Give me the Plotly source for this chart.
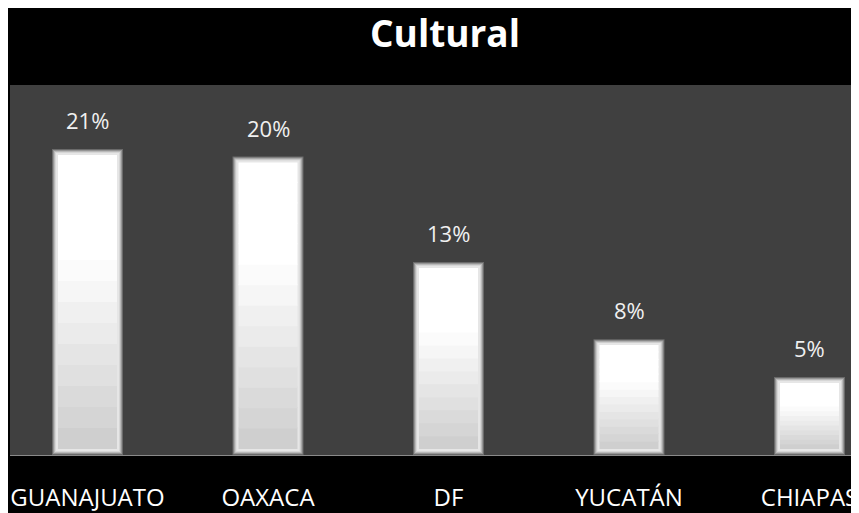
import plotly.graph_objects as go

# datos
estados = ["GUANAJUATO", "OAXACA", "DF", "YUCATÁN", "CHIAPAS"]
porcentajes = [20.6, 20.1, 13.0, 7.8, 5.25]
etiquetas = ["21%", "20%", "13%", "8%", "5%"]

fig = go.Figure()

px_unidad = 180.5          # pixeles por categoria
px_pct = 15.05             # pixeles por punto porcentual

# bisel: capas de afuera hacia adentro (ancho px, margen px, color)
capas = [(71, 0, "#6a6a6a"), (69, 1, "#959595"), (67, 2, "#b9b9b9"),
         (65, 3, "#d6d6d6"), (63, 4, "#e6e6e6")]
for ancho, inset, color in capas:
    d = inset / px_pct
    fig.add_trace(go.Bar(
        x=estados, y=[v - 2 * d for v in porcentajes], base=[d] * len(porcentajes),
        width=ancho / px_unidad, marker=dict(color=color, line=dict(width=0)),
        hoverinfo="skip", showlegend=False,
    ))

# nucleo con degradado vertical (blanco arriba, gris claro abajo)
n = 14
d = 6 / px_pct
solape = 1.2 / px_pct
for j in range(n):
    f = (j + 0.5) / n
    g = 255 if f > 0.65 else int(205 + 50 * f / 0.65)
    extra = solape if j < n - 1 else 0
    fig.add_trace(go.Bar(
        x=estados, y=[(v - 2 * d) / n + extra for v in porcentajes],
        base=[d + (v - 2 * d) * j / n for v in porcentajes],
        width=59 / px_unidad, marker=dict(color=f"rgb({g},{g},{g})", line=dict(width=0)),
        hoverinfo="skip", showlegend=False,
    ))

for est, v, t in zip(estados, porcentajes, etiquetas):
    fig.add_annotation(x=est, y=v, text=t, showarrow=False, yanchor="bottom",
                       yshift=12, font=dict(size=22, color="#f0f0f0"))

fig.add_annotation(x=(437 - 2) / 849, y=1, xref="paper", yref="paper",
                   text="<b>Cultural</b>", showarrow=False, yanchor="middle",
                   yshift=53, font=dict(size=37, color="white"))

fig.update_layout(
    width=851, height=505,
    margin=dict(l=2, r=0, t=77, b=53),
    paper_bgcolor="black",
    plot_bgcolor="#404040",
    barmode="overlay",
    font=dict(family="Open Sans", color="white"),
    xaxis=dict(range=[-77.5 / px_unidad, 4 + 49.5 / px_unidad], showgrid=False,
               showline=True, linecolor="#8a8a8a", linewidth=1,
               ticks="outside", ticklen=0, ticklabelstandoff=21,
               tickfont=dict(size=24, color="white")),
    yaxis=dict(range=[0, 375 / px_pct], visible=False),
)

fig.write_html("out.html")
